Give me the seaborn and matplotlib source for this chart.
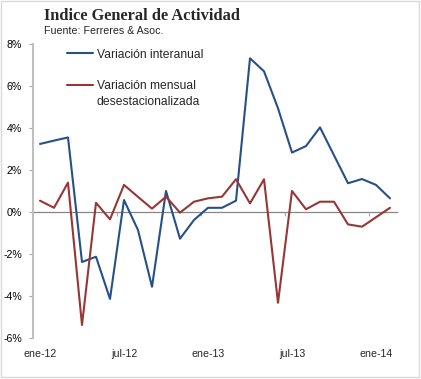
import matplotlib
matplotlib.use("Agg")
import matplotlib.pyplot as plt
import seaborn as sns
import pandas as pd
from matplotlib.patches import Rectangle
from matplotlib.ticker import FixedLocator

months = ["ene-12", "feb-12", "mar-12", "abr-12", "may-12", "jun-12", "jul-12", "ago-12",
          "sep-12", "oct-12", "nov-12", "dic-12", "ene-13", "feb-13", "mar-13", "abr-13",
          "may-13", "jun-13", "jul-13", "ago-13", "sep-13", "oct-13", "nov-13", "dic-13",
          "ene-14", "feb-14"]
interanual = [3.24, 3.4, 3.55, -2.38, -2.13, -4.14, 0.57, -0.86, -3.56, 1.0, -1.27, -0.38,
              0.2, 0.2, 0.54, 7.32, 6.7, 4.94, 2.83, 3.14, 4.03, 2.7, 1.37, 1.57, 1.29, 0.65]
mensual = [0.54, 0.2, 1.4, -5.38, 0.44, -0.35, 1.29, 0.72, 0.16, 0.73, -0.03, 0.49,
           0.65, 0.73, 1.56, 0.41, 1.56, -4.32, 1.0, 0.13, 0.49, 0.49, -0.59, -0.7, -0.25, 0.2]
series_names = ["Variación interanual", "Variación mensual"]
label_months = ["ene-12", "jul-12", "ene-13", "jul-13", "ene-14"]
y_ticks = [-6, -4, -2, 0, 2, 4, 6, 8]

df = pd.DataFrame({
    "idx": list(range(len(months))) * 2,
    "valor": interanual + mensual,
    "serie": [series_names[0]] * len(months) + [series_names[1]] * len(months),
})

sns.set_style("white")
plt.rcParams["font.family"] = ["Liberation Sans", "DejaVu Sans"]

W, H = 421, 379
fig = plt.figure(figsize=(W / 100, H / 100), dpi=100)
ax = fig.add_axes([33 / W, 1 - 338 / H, (397 - 33) / W, (338 - 44) / H])

palette = {series_names[0]: "#26508A", series_names[1]: "#963736"}
sns.lineplot(data=df, x="idx", y="valor", hue="serie", palette=palette, ax=ax,
             linewidth=1.5, legend=False, sort=False)

ax.set_xlim(-0.5, len(months) - 0.5)
ax.set_ylim(-6, 8)
ax.set_xlabel("")
ax.set_ylabel("")

# y axis
ax.set_yticks(y_ticks)
ax.set_yticklabels([f"{v}%" for v in y_ticks])
ax.tick_params(axis="y", direction="out", length=3, width=0.8, color="#A6A6A6",
               pad=5, labelsize=7.7, labelcolor="black", left=True)
ax.spines["left"].set_color("#BFBFBF")
ax.spines["left"].set_linewidth(1.5)
for s in ["top", "right"]:
    ax.spines[s].set_visible(False)

# x axis at zero
ax.spines["bottom"].set_position(("data", 0))
ax.spines["bottom"].set_color("#868686")
ax.spines["bottom"].set_linewidth(0.9)
ax.spines["bottom"].set_zorder(0.5)
label_pos = [months.index(m) for m in label_months]
ax.xaxis.set_major_locator(FixedLocator(label_pos))
ax.set_xticklabels(label_months)
ax.xaxis.set_minor_locator(FixedLocator([p - 0.5 for p in label_pos]))
ax.tick_params(axis="x", which="major", length=0, pad=98.5, labelsize=7.7, bottom=True)
ax.tick_params(axis="x", which="minor", direction="out", length=3, width=0.8,
               color="#A6A6A6", bottom=True)

# titles
fig.text(44 / W, 1 - 20.5 / H, "Indice General de Actividad", fontsize=11.8,
         fontweight="bold", family=["Liberation Serif", "DejaVu Serif"], va="baseline")
fig.text(44 / W, 1 - 33.5 / H, "Fuente: Ferreres & Asoc.", fontsize=7.7, va="baseline")

# legend
handles = [plt.Line2D([], [], color=palette[n], lw=1.5) for n in series_names]
leg = fig.legend(handles, series_names, loc="center left",
                 bbox_to_anchor=(67 / W, 1 - 70.5 / H), frameon=False, fontsize=8.7,
                 handlelength=2.15, handletextpad=0.3, labelspacing=1.62,
                 borderpad=0, borderaxespad=0)
fig.canvas.draw()
bb = leg.get_texts()[1].get_window_extent()
fig.text(bb.x0 / W, ((bb.y0 + bb.y1) / 2 - 16) / H, "desestacionalizada",
         fontsize=8.7, va="center", ha="left")

# border
fig.patches.append(Rectangle((0.5 / W, 2 / H), 418 / W, (377 - 0.5) / H,
                             transform=fig.transFigure, fill=False,
                             edgecolor="#D9D9D9", linewidth=1))

fig.savefig("out.png", dpi=100)
